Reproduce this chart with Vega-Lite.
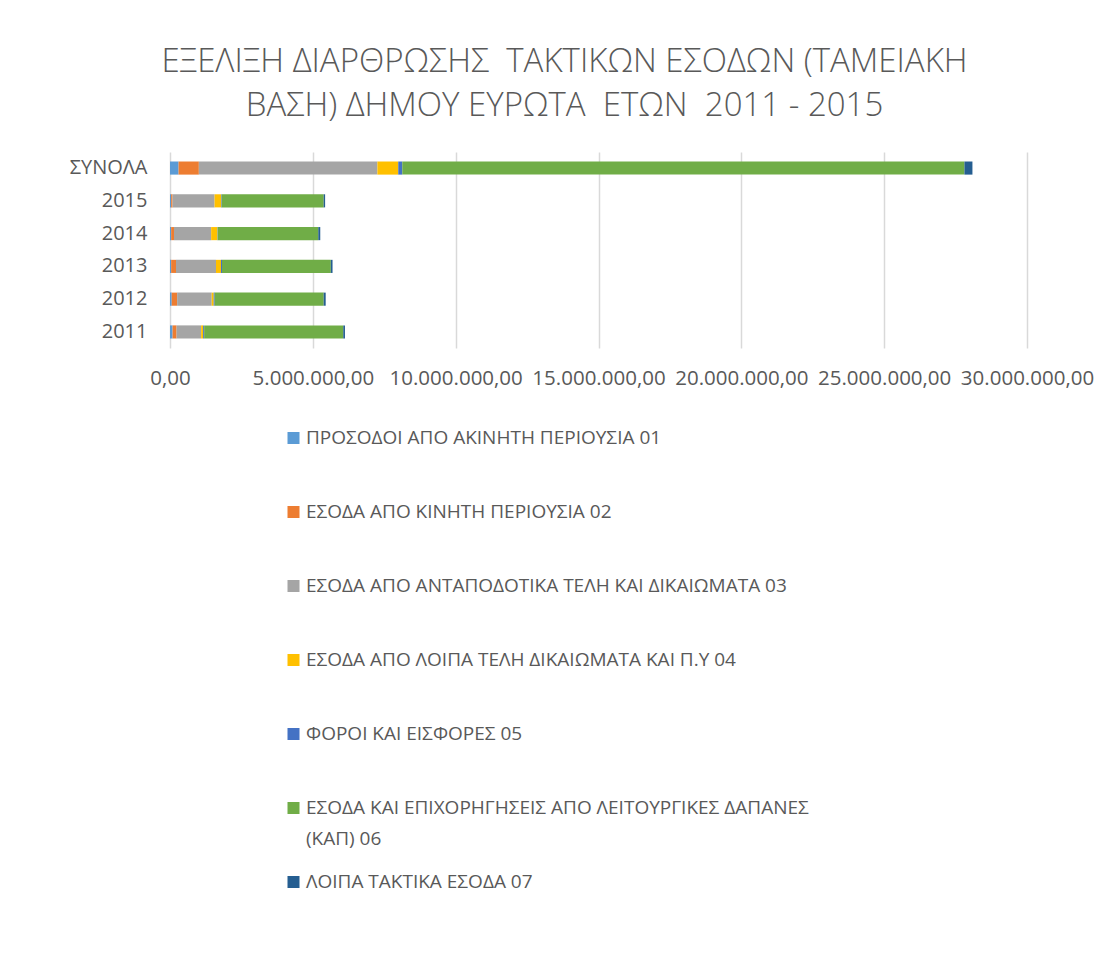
{
  "$schema": "https://vega.github.io/schema/vega-lite/v6.json",
  "width": 857,
  "height": 196,
  "autosize": {"type": "none"},
  "padding": {"left": 170, "top": 152, "right": 78, "bottom": 619},
  "background": "white",
  "config": {
    "locale": {"number": {"decimal": ",", "thousands": ".", "grouping": [3], "currency": ["", " €"]}},
    "view": {"stroke": null},
    "font": "Open Sans",
    "style": {"guide-label": {"lineHeight": 31}}
  },
  "title": {
    "text": ["ΕΞΕΛΙΞΗ ΔΙΑΡΘΡΩΣΗΣ \u00a0ΤΑΚΤΙΚΩΝ ΕΣΟΔΩΝ (ΤΑΜΕΙΑΚΗ", "ΒΑΣΗ) ΔΗΜΟΥ ΕΥΡΩΤΑ \u00a0ΕΤΩΝ \u00a02011 - 2015"],
    "font": "Open Sans",
    "fontSize": 33,
    "fontWeight": 300,
    "color": "#595959",
    "anchor": "middle",
    "baseline": "bottom",
    "lineHeight": 44,
    "offset": -4,
    "dx": -34
  },
  "data": {
    "values": [
      {"row": "ΣΥΝΟΛΑ", "code": "01", "series": "ΠΡΟΣΟΔΟΙ ΑΠΟ ΑΚΙΝΗΤΗ ΠΕΡΙΟΥΣΙΑ 01", "value": 300000},
      {"row": "ΣΥΝΟΛΑ", "code": "02", "series": "ΕΣΟΔΑ ΑΠΟ ΚΙΝΗΤΗ ΠΕΡΙΟΥΣΙΑ 02", "value": 710000},
      {"row": "ΣΥΝΟΛΑ", "code": "03", "series": "ΕΣΟΔΑ ΑΠΟ ΑΝΤΑΠΟΔΟΤΙΚΑ ΤΕΛΗ ΚΑΙ ΔΙΚΑΙΩΜΑΤΑ 03", "value": 6250000},
      {"row": "ΣΥΝΟΛΑ", "code": "04", "series": "ΕΣΟΔΑ ΑΠΟ ΛΟΙΠΑ ΤΕΛΗ ΔΙΚΑΙΩΜΑΤΑ ΚΑΙ Π.Υ 04", "value": 730000},
      {"row": "ΣΥΝΟΛΑ", "code": "05", "series": "ΦΟΡΟΙ ΚΑΙ ΕΙΣΦΟΡΕΣ 05", "value": 140000},
      {"row": "ΣΥΝΟΛΑ", "code": "06", "series": "ΕΣΟΔΑ ΚΑΙ ΕΠΙΧΟΡΗΓΗΣΕΙΣ ΑΠΟ ΛΕΙΤΟΥΡΓΙΚΕΣ ΔΑΠΑΝΕΣ (ΚΑΠ) 06", "value": 19680000},
      {"row": "ΣΥΝΟΛΑ", "code": "07", "series": "ΛΟΙΠΑ ΤΑΚΤΙΚΑ ΕΣΟΔΑ 07", "value": 280000},
      {"row": "2015", "code": "01", "series": "ΠΡΟΣΟΔΟΙ ΑΠΟ ΑΚΙΝΗΤΗ ΠΕΡΙΟΥΣΙΑ 01", "value": 40000},
      {"row": "2015", "code": "02", "series": "ΕΣΟΔΑ ΑΠΟ ΚΙΝΗΤΗ ΠΕΡΙΟΥΣΙΑ 02", "value": 50000},
      {"row": "2015", "code": "03", "series": "ΕΣΟΔΑ ΑΠΟ ΑΝΤΑΠΟΔΟΤΙΚΑ ΤΕΛΗ ΚΑΙ ΔΙΚΑΙΩΜΑΤΑ 03", "value": 1470000},
      {"row": "2015", "code": "04", "series": "ΕΣΟΔΑ ΑΠΟ ΛΟΙΠΑ ΤΕΛΗ ΔΙΚΑΙΩΜΑΤΑ ΚΑΙ Π.Υ 04", "value": 230000},
      {"row": "2015", "code": "05", "series": "ΦΟΡΟΙ ΚΑΙ ΕΙΣΦΟΡΕΣ 05", "value": 20000},
      {"row": "2015", "code": "06", "series": "ΕΣΟΔΑ ΚΑΙ ΕΠΙΧΟΡΗΓΗΣΕΙΣ ΑΠΟ ΛΕΙΤΟΥΡΓΙΚΕΣ ΔΑΠΑΝΕΣ (ΚΑΠ) 06", "value": 3570000},
      {"row": "2015", "code": "07", "series": "ΛΟΙΠΑ ΤΑΚΤΙΚΑ ΕΣΟΔΑ 07", "value": 50000},
      {"row": "2014", "code": "01", "series": "ΠΡΟΣΟΔΟΙ ΑΠΟ ΑΚΙΝΗΤΗ ΠΕΡΙΟΥΣΙΑ 01", "value": 40000},
      {"row": "2014", "code": "02", "series": "ΕΣΟΔΑ ΑΠΟ ΚΙΝΗΤΗ ΠΕΡΙΟΥΣΙΑ 02", "value": 100000},
      {"row": "2014", "code": "03", "series": "ΕΣΟΔΑ ΑΠΟ ΑΝΤΑΠΟΔΟΤΙΚΑ ΤΕΛΗ ΚΑΙ ΔΙΚΑΙΩΜΑΤΑ 03", "value": 1300000},
      {"row": "2014", "code": "04", "series": "ΕΣΟΔΑ ΑΠΟ ΛΟΙΠΑ ΤΕΛΗ ΔΙΚΑΙΩΜΑΤΑ ΚΑΙ Π.Υ 04", "value": 220000},
      {"row": "2014", "code": "05", "series": "ΦΟΡΟΙ ΚΑΙ ΕΙΣΦΟΡΕΣ 05", "value": 10000},
      {"row": "2014", "code": "06", "series": "ΕΣΟΔΑ ΚΑΙ ΕΠΙΧΟΡΗΓΗΣΕΙΣ ΑΠΟ ΛΕΙΤΟΥΡΓΙΚΕΣ ΔΑΠΑΝΕΣ (ΚΑΠ) 06", "value": 3520000},
      {"row": "2014", "code": "07", "series": "ΛΟΙΠΑ ΤΑΚΤΙΚΑ ΕΣΟΔΑ 07", "value": 70000},
      {"row": "2013", "code": "01", "series": "ΠΡΟΣΟΔΟΙ ΑΠΟ ΑΚΙΝΗΤΗ ΠΕΡΙΟΥΣΙΑ 01", "value": 40000},
      {"row": "2013", "code": "02", "series": "ΕΣΟΔΑ ΑΠΟ ΚΙΝΗΤΗ ΠΕΡΙΟΥΣΙΑ 02", "value": 170000},
      {"row": "2013", "code": "03", "series": "ΕΣΟΔΑ ΑΠΟ ΑΝΤΑΠΟΔΟΤΙΚΑ ΤΕΛΗ ΚΑΙ ΔΙΚΑΙΩΜΑΤΑ 03", "value": 1400000},
      {"row": "2013", "code": "04", "series": "ΕΣΟΔΑ ΑΠΟ ΛΟΙΠΑ ΤΕΛΗ ΔΙΚΑΙΩΜΑΤΑ ΚΑΙ Π.Υ 04", "value": 175000},
      {"row": "2013", "code": "05", "series": "ΦΟΡΟΙ ΚΑΙ ΕΙΣΦΟΡΕΣ 05", "value": 35000},
      {"row": "2013", "code": "06", "series": "ΕΣΟΔΑ ΚΑΙ ΕΠΙΧΟΡΗΓΗΣΕΙΣ ΑΠΟ ΛΕΙΤΟΥΡΓΙΚΕΣ ΔΑΠΑΝΕΣ (ΚΑΠ) 06", "value": 3810000},
      {"row": "2013", "code": "07", "series": "ΛΟΙΠΑ ΤΑΚΤΙΚΑ ΕΣΟΔΑ 07", "value": 60000},
      {"row": "2012", "code": "01", "series": "ΠΡΟΣΟΔΟΙ ΑΠΟ ΑΚΙΝΗΤΗ ΠΕΡΙΟΥΣΙΑ 01", "value": 60000},
      {"row": "2012", "code": "02", "series": "ΕΣΟΔΑ ΑΠΟ ΚΙΝΗΤΗ ΠΕΡΙΟΥΣΙΑ 02", "value": 190000},
      {"row": "2012", "code": "03", "series": "ΕΣΟΔΑ ΑΠΟ ΑΝΤΑΠΟΔΟΤΙΚΑ ΤΕΛΗ ΚΑΙ ΔΙΚΑΙΩΜΑΤΑ 03", "value": 1210000},
      {"row": "2012", "code": "04", "series": "ΕΣΟΔΑ ΑΠΟ ΛΟΙΠΑ ΤΕΛΗ ΔΙΚΑΙΩΜΑΤΑ ΚΑΙ Π.Υ 04", "value": 70000},
      {"row": "2012", "code": "05", "series": "ΦΟΡΟΙ ΚΑΙ ΕΙΣΦΟΡΕΣ 05", "value": 35000},
      {"row": "2012", "code": "06", "series": "ΕΣΟΔΑ ΚΑΙ ΕΠΙΧΟΡΗΓΗΣΕΙΣ ΑΠΟ ΛΕΙΤΟΥΡΓΙΚΕΣ ΔΑΠΑΝΕΣ (ΚΑΠ) 06", "value": 3815000},
      {"row": "2012", "code": "07", "series": "ΛΟΙΠΑ ΤΑΚΤΙΚΑ ΕΣΟΔΑ 07", "value": 70000},
      {"row": "2011", "code": "01", "series": "ΠΡΟΣΟΔΟΙ ΑΠΟ ΑΚΙΝΗΤΗ ΠΕΡΙΟΥΣΙΑ 01", "value": 90000},
      {"row": "2011", "code": "02", "series": "ΕΣΟΔΑ ΑΠΟ ΚΙΝΗΤΗ ΠΕΡΙΟΥΣΙΑ 02", "value": 140000},
      {"row": "2011", "code": "03", "series": "ΕΣΟΔΑ ΑΠΟ ΑΝΤΑΠΟΔΟΤΙΚΑ ΤΕΛΗ ΚΑΙ ΔΙΚΑΙΩΜΑΤΑ 03", "value": 860000},
      {"row": "2011", "code": "04", "series": "ΕΣΟΔΑ ΑΠΟ ΛΟΙΠΑ ΤΕΛΗ ΔΙΚΑΙΩΜΑΤΑ ΚΑΙ Π.Υ 04", "value": 70000},
      {"row": "2011", "code": "05", "series": "ΦΟΡΟΙ ΚΑΙ ΕΙΣΦΟΡΕΣ 05", "value": 35000},
      {"row": "2011", "code": "06", "series": "ΕΣΟΔΑ ΚΑΙ ΕΠΙΧΟΡΗΓΗΣΕΙΣ ΑΠΟ ΛΕΙΤΟΥΡΓΙΚΕΣ ΔΑΠΑΝΕΣ (ΚΑΠ) 06", "value": 4870000},
      {"row": "2011", "code": "07", "series": "ΛΟΙΠΑ ΤΑΚΤΙΚΑ ΕΣΟΔΑ 07", "value": 60000}
    ]
  },
  "mark": {"type": "bar"},
  "encoding": {
    "y": {
      "field": "row",
      "type": "nominal",
      "sort": ["ΣΥΝΟΛΑ", "2015", "2014", "2013", "2012", "2011"],
      "scale": {"paddingInner": 0.6, "paddingOuter": 0.29},
      "axis": {
        "title": null,
        "domain": false,
        "ticks": false,
        "grid": false,
        "labelPadding": 23,
        "labelFont": "Open Sans",
        "labelFontSize": 20,
        "labelColor": "#595959"
      }
    },
    "x": {
      "field": "value",
      "type": "quantitative",
      "stack": "zero",
      "scale": {"domain": [0, 30000000], "nice": false},
      "axis": {
        "title": null,
        "values": [0, 5000000, 10000000, 15000000, 20000000, 25000000, 30000000],
        "format": ",.2f",
        "domain": false,
        "ticks": false,
        "grid": true,
        "gridColor": "#d9d9d9",
        "gridWidth": 1.5,
        "labelPadding": 20,
        "labelFont": "Open Sans",
        "labelFontSize": 20.5,
        "labelColor": "#595959",
        "labelOverlap": false,
        "labelFlush": false,
        "labelBound": false
      }
    },
    "color": {
      "field": "series",
      "type": "nominal",
      "scale": {
        "domain": [
          "ΠΡΟΣΟΔΟΙ ΑΠΟ ΑΚΙΝΗΤΗ ΠΕΡΙΟΥΣΙΑ 01",
          "ΕΣΟΔΑ ΑΠΟ ΚΙΝΗΤΗ ΠΕΡΙΟΥΣΙΑ 02",
          "ΕΣΟΔΑ ΑΠΟ ΑΝΤΑΠΟΔΟΤΙΚΑ ΤΕΛΗ ΚΑΙ ΔΙΚΑΙΩΜΑΤΑ 03",
          "ΕΣΟΔΑ ΑΠΟ ΛΟΙΠΑ ΤΕΛΗ ΔΙΚΑΙΩΜΑΤΑ ΚΑΙ Π.Υ 04",
          "ΦΟΡΟΙ ΚΑΙ ΕΙΣΦΟΡΕΣ 05",
          "ΕΣΟΔΑ ΚΑΙ ΕΠΙΧΟΡΗΓΗΣΕΙΣ ΑΠΟ ΛΕΙΤΟΥΡΓΙΚΕΣ ΔΑΠΑΝΕΣ (ΚΑΠ) 06",
          "ΛΟΙΠΑ ΤΑΚΤΙΚΑ ΕΣΟΔΑ 07"
        ],
        "range": ["#5b9bd5", "#ed7d31", "#a5a5a5", "#ffc000", "#4472c4", "#70ad47", "#255e91"]
      },
      "legend": {
        "title": null,
        "orient": "none",
        "legendX": 114,
        "legendY": 276,
        "direction": "vertical",
        "gridAlign": "all",
        "symbolType": "square",
        "symbolSize": 144,
        "symbolStrokeWidth": 0,
        "symbolOpacity": 1,
        "labelFont": "Open Sans",
        "labelFontSize": 19,
        "labelColor": "#595959",
        "labelLimit": 1000,
        "labelOffset": 3,
        "rowPadding": 23,
        "clipHeight": 20,
        "labelExpr": "datum.label == 'ΕΣΟΔΑ ΚΑΙ ΕΠΙΧΟΡΗΓΗΣΕΙΣ ΑΠΟ ΛΕΙΤΟΥΡΓΙΚΕΣ ΔΑΠΑΝΕΣ (ΚΑΠ) 06' ? ['ΕΣΟΔΑ ΚΑΙ ΕΠΙΧΟΡΗΓΗΣΕΙΣ ΑΠΟ ΛΕΙΤΟΥΡΓΙΚΕΣ ΔΑΠΑΝΕΣ', '(ΚΑΠ) 06'] : datum.label"
      }
    },
    "order": {"field": "code", "type": "ordinal", "sort": "ascending"}
  }
}
